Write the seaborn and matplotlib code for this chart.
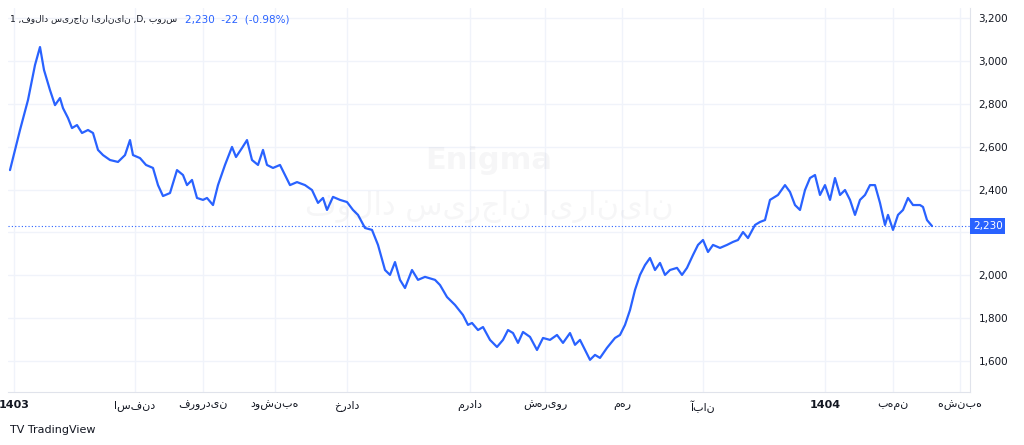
import matplotlib
matplotlib.use("Agg")
import matplotlib.pyplot as plt
import seaborn as sns
import pandas as pd

days = [10,20,28,35,40,44,50,55,60,63,68,72,77,82,88,93,98,103,110,118,125,130,133,140,146,153,158,163,170,177,183,187,192,197,203,207,213,218,225,232,236,242,247,252,258,263,267,273,280,285,290,297,305,312,318,323,327,333,340,347,353,358,365,372,378,385,390,395,400,405,412,418,425,435,440,447,455,463,468,472,478,483,490,497,503,508,513,518,523,530,537,543,550,557,563,570,575,580,585,590,595,600,607,615,620,625,630,635,640,645,650,655,660,665,670,677,682,687,693,698,703,708,713,720,727,733,738,743,748,755,760,765,770,778,785,790,795,800,805,810,815,820,825,830,835,840,845,850,855,860,865,870,875,880,885,888,893,898,903,908,913,920,923,927,932]
prices = [2491,2678,2818,2981,3065,2958,2864,2794,2827,2780,2734,2687,2701,2664,2678,2664,2585,2561,2538,2529,2561,2631,2561,2547,2515,2501,2421,2370,2384,2491,2468,2421,2445,2361,2352,2361,2328,2421,2515,2599,2552,2594,2631,2538,2515,2585,2515,2501,2515,2468,2421,2435,2421,2398,2338,2361,2305,2366,2352,2342,2305,2282,2221,2212,2142,2025,2002,2062,1979,1941,2025,1979,1993,1979,1955,1899,1862,1815,1769,1778,1745,1759,1699,1666,1699,1745,1731,1685,1736,1713,1652,1708,1699,1722,1685,1731,1676,1699,1652,1606,1629,1615,1662,1708,1722,1769,1838,1932,2002,2048,2081,2025,2058,2002,2025,2035,2002,2035,2095,2142,2165,2109,2142,2128,2142,2156,2165,2202,2174,2235,2249,2258,2352,2375,2421,2389,2328,2305,2398,2454,2468,2375,2421,2352,2454,2375,2398,2352,2282,2352,2375,2421,2421,2338,2235,2282,2212,2282,2305,2361,2328,2328,2319,2258,2230]
tick_pos = [14,135,203,275,347,470,545,622,703,825,893,960]
tick_labels = ["1403","اسفند","فروردین","دوشنبه","خرداد","مرداد","شهریور","مهر","آبان","1404","بهمن","ه‌شنبه"]
yticks = [1600,1800,2000,2200,2400,2600,2800,3000,3200]
last = 2230

sns.set_style("white")
plt.rcParams['font.family'] = ['DejaVu Sans']
fig = plt.figure(figsize=(10.24,4.45), dpi=100)
ax = fig.add_axes([8/1024, 1-392/445, 962/1024, 384/445])
df = pd.DataFrame({"day":days,"price":prices})
sns.lineplot(data=df, x="day", y="price", ax=ax, color="#2962ff", linewidth=1.6)
ax.set_xlim(8,970)
ax.set_ylim(1456,3247)
ax.set_xticks(tick_pos)
ax.set_xticklabels(tick_labels, fontsize=8, color="#131722")
for i,l in enumerate(ax.get_xticklabels()):
    if tick_labels[i] in ("1403","1404"):
        l.set_fontweight("bold")
ax.yaxis.tick_right()
ax.set_yticks(yticks)
ax.set_yticklabels([f"{v:,}" if v != 2200 else "" for v in yticks], fontsize=7.5, color="#131722")
ax.tick_params(length=0, pad=6)
ax.grid(True, color="#f0f3fa", linewidth=1)
ax.set_xlabel(""); ax.set_ylabel("")
for s in ["top","left"]:
    ax.spines[s].set_visible(False)
ax.spines["right"].set_color("#e0e3eb")
ax.spines["bottom"].set_color("#e0e3eb")
ax.axhline(last, color="#2962ff", linestyle=(0,(1,2)), linewidth=0.8)
ax.text(1.003, last, f"{last:,}", transform=ax.get_yaxis_transform(), va="center", ha="left",
        fontsize=7.5, color="white", bbox=dict(boxstyle="square,pad=0.25", fc="#2962ff", ec="none"))
ax.text(0.5, 0.58, "Enigma", transform=ax.transAxes, ha="center", fontsize=22, color="#131722", alpha=0.035, fontweight="bold")
ax.text(0.5, 0.46, "فولاد سیرجان ایرانیان", transform=ax.transAxes, ha="center", fontsize=22, color="#131722", alpha=0.035)
t1 = fig.text(10/1024, 1-19/445, "1 ,فولاد سیرجان ایرانیان ,D, بورس", fontsize=6.5, color="#131722", va="center")
fig.canvas.draw()
bb = t1.get_window_extent()
fig.text((bb.x1 + 8)/1024, 1-19/445, "2,230  -22  (-0.98%)", fontsize=7.5, color="#2962ff", va="center")
fig.text(10/1024, 1-430/445, "TV TradingView", fontsize=8, color="#131722", va="center")
fig.savefig("out.png", dpi=100, facecolor="white")
